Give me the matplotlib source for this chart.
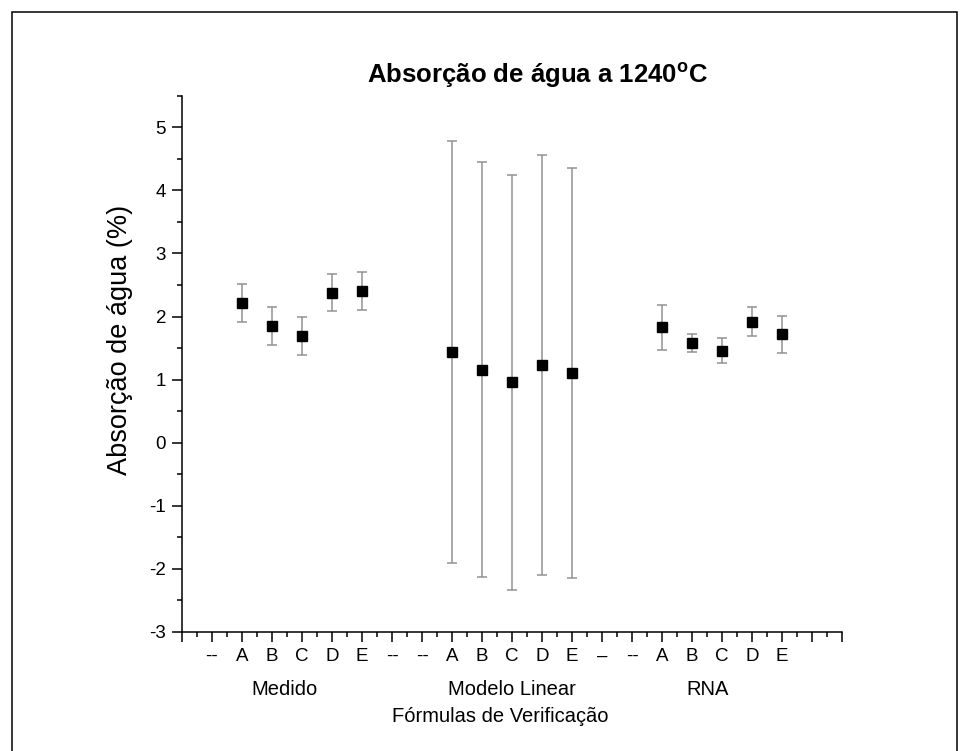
import matplotlib
matplotlib.use('Agg')
from matplotlib import pyplot as plt
from matplotlib.patches import Rectangle
from matplotlib.ticker import MultipleLocator

plt.rcParams['font.family'] = ['Liberation Sans', 'DejaVu Sans']
plt.rcParams['axes.unicode_minus'] = False

# data
formulas = ['A', 'B', 'C', 'D', 'E']
groups = ['Medido', 'Modelo Linear', 'RNA']
medido = [2.21, 1.85, 1.69, 2.38, 2.40]
medido_err = [0.30, 0.30, 0.30, 0.30, 0.30]
linear = [1.44, 1.16, 0.96, 1.23, 1.10]
linear_err = [3.34, 3.29, 3.29, 3.33, 3.25]
rna = [1.83, 1.58, 1.46, 1.92, 1.72]
rna_err = [0.36, 0.14, 0.20, 0.23, 0.29]
tick_labels = ['', '--', 'A', 'B', 'C', 'D', 'E', '--', '--',
               'A', 'B', 'C', 'D', 'E', '\u2013', '--',
               'A', 'B', 'C', 'D', 'E', '', '']

group_start = [2, 9, 16]
group_label_pos = [3.4, 11.0, 17.5]

fig = plt.figure(figsize=(9.68, 7.51), dpi=100)
ax = fig.add_axes([0.188, 0.1585, 0.682, 0.714])

err_style = {'fmt': 's', 'color': 'black', 'ms': 6.5, 'ecolor': '#929292',
             'elinewidth': 1.1, 'capsize': 3.6, 'capthick': 1.1}
for start, vals, errs in zip(group_start, (medido, linear, rna),
                             (medido_err, linear_err, rna_err)):
    xs = [start + i for i in range(len(formulas))]
    ax.errorbar(xs, vals, yerr=errs, **err_style)

ax.set_xlim(0, 22)
ax.set_ylim(-3, 5.5)
ax.set_xticks(range(len(tick_labels)))
ax.set_xticklabels(tick_labels)
ax.xaxis.set_minor_locator(MultipleLocator(0.5))
ax.yaxis.set_major_locator(MultipleLocator(1))
ax.yaxis.set_minor_locator(MultipleLocator(0.5))
ax.tick_params(axis='both', which='major', length=7.5, width=1.1,
               labelsize=13.5, pad=4)
ax.tick_params(axis='both', which='minor', length=3.8, width=1.1)
for side in ('top', 'right'):
    ax.spines[side].set_visible(False)
for side in ('left', 'bottom'):
    ax.spines[side].set_linewidth(1.1)

for pos, name in zip(group_label_pos, groups):
    ax.text(pos, -0.107, name, transform=ax.get_xaxis_transform(),
            ha='center', va='center', fontsize=14.5)
ax.text(10.6, -0.158, 'Fórmulas de Verificação',
        transform=ax.get_xaxis_transform(), ha='center', va='center',
        fontsize=14.5)

fig.text(0.124, 0.547, 'Absorção de água (%)', rotation=90,
         ha='center', va='center', fontsize=19.5)
fig.text(0.555, 0.9, r'Absorção de água a 1240$^{\mathregular{o}}$C',
         ha='center', va='center', fontsize=18.5, fontweight='bold')

fig.patches.append(Rectangle((12 / 968, -0.05), 945 / 968, 1.05 - 12 / 751,
                             transform=fig.transFigure, fill=False,
                             edgecolor='black', linewidth=1.1))

fig.savefig('out.png', dpi=100)
